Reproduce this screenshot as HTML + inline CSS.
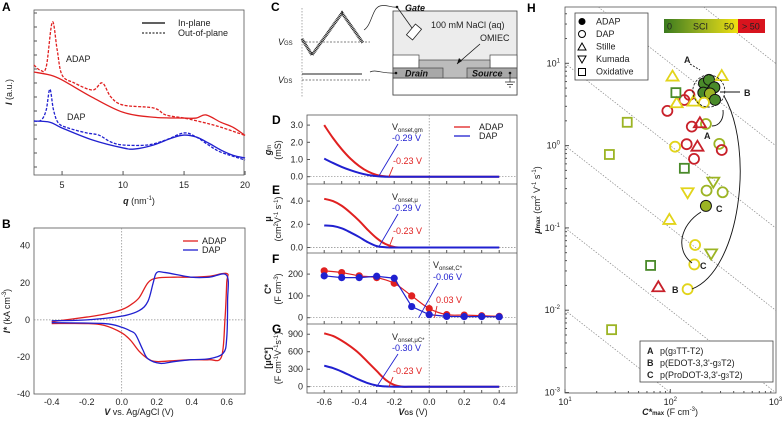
<!DOCTYPE html>
<html><head><meta charset="utf-8"><style>
html,body{margin:0;padding:0;background:#fff;width:783px;height:422px;overflow:hidden;}
svg{display:block;font-family:"Liberation Sans",sans-serif;}
.t{font-size:9px;fill:#222}
.pl{font-size:12px;font-weight:bold;fill:#000}
.ax{fill:none;stroke:#555;stroke-width:0.8}
.dot{stroke:#888;stroke-width:0.7;stroke-dasharray:1.5,1.5;fill:none}
</style></head><body>
<svg id="fig" width="783" height="422" viewBox="0 0 783 422" xmlns="http://www.w3.org/2000/svg" overflow="hidden">
<!-- Panel A -->
<g>
<text class="pl" x="2" y="11">A</text>
<rect class="ax" x="34" y="10" width="210" height="165"/>
<g id="gA"></g>
<line x1="142" y1="23" x2="165" y2="23" stroke="#000" stroke-width="1.3"/>
<text class="t" x="178" y="26">In-plane</text>
<line x1="142" y1="33" x2="165" y2="33" stroke="#000" stroke-width="1.1" stroke-dasharray="2,1.5"/>
<text class="t" x="178" y="36">Out-of-plane</text>
<text class="t" x="66" y="62">ADAP</text>
<text class="t" x="67" y="120">DAP</text>
<text class="t" x="139" y="204" text-anchor="middle"><tspan font-weight="bold" font-style="italic">q</tspan> (nm<tspan font-size="6" dy="-4">-1</tspan><tspan dy="4">)</tspan></text>
<text class="t" transform="translate(12,92) rotate(-90)" text-anchor="middle"><tspan font-style="italic" font-weight="bold">I</tspan> (a.u.)</text>
</g>
<!-- Panel B -->
<g>
<text class="pl" x="2" y="228">B</text>
<rect class="ax" x="34" y="228" width="211" height="166"/>
<g id="gB"></g>
<line x1="183" y1="241" x2="198" y2="241" stroke="#e02020" stroke-width="1.3"/>
<text class="t" x="202" y="244">ADAP</text>
<line x1="183" y1="250" x2="198" y2="250" stroke="#2020d0" stroke-width="1.3"/>
<text class="t" x="202" y="253">DAP</text>
<text class="t" x="139" y="415" text-anchor="middle"><tspan font-weight="bold" font-style="italic">V</tspan> vs. Ag/AgCl (V)</text>
<text class="t" transform="translate(10,311) rotate(-90)" text-anchor="middle"><tspan font-style="italic" font-weight="bold">I*</tspan> (kA cm<tspan font-size="6" dy="-4">-3</tspan><tspan dy="4">)</tspan></text>
</g>
<!-- Panel C schematic -->
<g>
<text class="pl" x="271" y="11">C</text>
<line x1="302" y1="8" x2="302" y2="97" class="dot" stroke="#444"/>
<polyline points="302,39 312,55 342,13 363,43" fill="none" stroke="#222" stroke-width="3" stroke-dasharray="1,0.6"/>
<line x1="302" y1="42" x2="370" y2="42" stroke="#555" stroke-width="0.8" stroke-dasharray="2,1.5"/>
<line x1="302" y1="74" x2="362" y2="74" stroke="#222" stroke-width="0.9"/>
<line x1="302" y1="80" x2="370" y2="80" stroke="#555" stroke-width="0.8" stroke-dasharray="2,1.5"/>
<text class="t" x="278" y="45"><tspan font-style="italic">V</tspan><tspan font-size="6">GS</tspan></text>
<text class="t" x="278" y="83"><tspan font-style="italic">V</tspan><tspan font-size="6">DS</tspan></text>
<rect x="393" y="11" width="124" height="84" fill="#ececec" stroke="#444" stroke-width="0.8"/>
<rect x="393" y="78" width="124" height="17" fill="#fff" stroke="#444" stroke-width="0.8"/>
<rect x="393" y="55" width="26" height="13" fill="#fff" stroke="#444" stroke-width="0.7"/>
<rect x="490" y="55" width="27" height="13" fill="#fff" stroke="#444" stroke-width="0.7"/>
<rect x="419" y="60" width="71" height="18" fill="#bcbcbc" stroke="#444" stroke-width="0.7"/>
<rect x="393" y="68" width="50" height="10" fill="#a8a8a8" stroke="#444" stroke-width="0.7"/>
<rect x="467" y="68" width="50" height="10" fill="#a8a8a8" stroke="#444" stroke-width="0.7"/>
<text x="405" y="76.5" font-size="9" font-weight="bold" font-style="italic" fill="#111">Drain</text>
<text x="472" y="76.5" font-size="9" font-weight="bold" font-style="italic" fill="#111">Source</text>
<text class="t" x="431" y="28">100 mM NaCl (aq)</text>
<text class="t" x="480" y="41">OMIEC</text>
<line x1="480" y1="44" x2="457" y2="64" stroke="#111" stroke-width="0.8"/>
<polygon points="457,64 459,58 462,61" fill="#111"/>
<text x="405" y="11" font-size="9" font-weight="bold" font-style="italic" fill="#111">Gate</text>
<line x1="397" y1="7" x2="412" y2="28" stroke="#222" stroke-width="0.8"/>
<rect x="407" y="28" width="14" height="8" fill="#fff" stroke="#222" stroke-width="0.8" transform="rotate(-50 414 32)"/>
<circle cx="397" cy="7" r="1.3" fill="#111"/>
<path d="M364,30 C372,25 372,8 380,6 C388,4 390,8 397,7" fill="none" stroke="#222" stroke-width="0.7"/>
<path d="M370,72 C376,69 382,74 396,73" fill="none" stroke="#222" stroke-width="0.7"/>
<circle cx="396" cy="73" r="1.3" fill="#111"/>
<circle cx="510" cy="73" r="1.3" fill="#111"/>
<path d="M510,73 V82 M505,82 H515 M507,84.5 H513 M509,87 H511" stroke="#222" stroke-width="0.7" fill="none"/>
</g>
<!-- Panels D-G -->
<g>
<text class="pl" x="272" y="124">D</text>
<text class="pl" x="272" y="194">E</text>
<text class="pl" x="272" y="263">F</text>
<text class="pl" x="272" y="333">G</text>
<rect class="ax" x="307" y="115" width="210" height="278"/>
<line class="ax" x1="307" y1="184" x2="517" y2="184"/>
<line class="ax" x1="307" y1="253" x2="517" y2="253"/>
<line class="ax" x1="307" y1="324" x2="517" y2="324"/>
<g id="gDG"></g>
<text class="t" transform="translate(271,150) rotate(-90)" text-anchor="middle"><tspan font-style="italic" font-weight="bold">g</tspan><tspan font-size="6">m</tspan><tspan x="0" dy="10">(mS)</tspan></text>
<text class="t" transform="translate(271,219) rotate(-90)" text-anchor="middle"><tspan font-weight="bold">μ</tspan><tspan x="0" dy="10">(cm</tspan><tspan font-size="6" dy="-3">2</tspan><tspan dy="3">V</tspan><tspan font-size="6" dy="-3">-1</tspan><tspan dy="3"> s</tspan><tspan font-size="6" dy="-3">-1</tspan><tspan dy="3">)</tspan></text>
<text class="t" transform="translate(271,289) rotate(-90)" text-anchor="middle"><tspan font-weight="bold">C*</tspan><tspan x="0" dy="10">(F cm</tspan><tspan font-size="6" dy="-3">-3</tspan><tspan dy="3">)</tspan></text>
<text class="t" transform="translate(271,358) rotate(-90)" text-anchor="middle"><tspan font-weight="bold">[μC*]</tspan><tspan x="0" dy="10">(F cm</tspan><tspan font-size="6" dy="-3">-1</tspan><tspan dy="3">V</tspan><tspan font-size="6" dy="-3">-1</tspan><tspan dy="3">s</tspan><tspan font-size="6" dy="-3">-1</tspan><tspan dy="3">)</tspan></text>
<line x1="454" y1="127" x2="470" y2="127" stroke="#e02020" stroke-width="1.3"/>
<text class="t" x="479" y="130">ADAP</text>
<line x1="454" y1="136" x2="470" y2="136" stroke="#2020d0" stroke-width="1.3"/>
<text class="t" x="479" y="139">DAP</text>
<text class="t" x="413" y="415" text-anchor="middle"><tspan font-weight="bold" font-style="italic">V</tspan><tspan font-size="6" font-weight="bold">GS</tspan> (V)</text>
</g>
<!-- Panel H -->
<g>
<text class="pl" x="527" y="12">H</text>
<rect class="ax" x="565" y="7" width="211" height="386"/>
<g id="gH"></g>
<rect x="575" y="13" width="73" height="67" fill="#fff" stroke="#444" stroke-width="0.8"/>
<circle cx="582" cy="21.5" r="3.5" fill="#000"/>
<text class="t" x="596" y="24.5">ADAP</text>
<circle cx="582" cy="34" r="3.5" fill="none" stroke="#000"/>
<text class="t" x="596" y="37">DAP</text>
<polygon points="582,43 586,50 578,50" fill="none" stroke="#000"/>
<text class="t" x="596" y="49.5">Stille</text>
<polygon points="578,56 586,56 582,63" fill="none" stroke="#000"/>
<text class="t" x="596" y="62">Kumada</text>
<rect x="578.5" y="68.5" width="7" height="7" fill="none" stroke="#000"/>
<text class="t" x="596" y="74.5">Oxidative</text>
<defs><linearGradient id="sci" x1="0" x2="1"><stop offset="0" stop-color="#3a7a1e"/><stop offset="0.5" stop-color="#98b020"/><stop offset="1" stop-color="#f0e010"/></linearGradient></defs>
<rect x="664" y="19" width="74" height="14" fill="url(#sci)"/>
<rect x="738" y="19" width="27" height="14" fill="#d8141e"/>
<text class="t" x="667" y="29.5">0</text>
<text class="t" x="693" y="29.5">SCI</text>
<text class="t" x="724" y="29.5">50</text>
<text class="t" x="742" y="29.5">&gt; 50</text>
<rect x="640" y="341" width="133" height="41" fill="#fff" stroke="#444" stroke-width="0.8"/>
<text class="t" x="647" y="354" font-weight="bold">A</text>
<text class="t" x="660" y="354">p(g<tspan font-size="6">3</tspan>TT-T2)</text>
<text class="t" x="647" y="366" font-weight="bold">B</text>
<text class="t" x="660" y="366">p(EDOT-3,3'-g<tspan font-size="6">3</tspan>T2)</text>
<text class="t" x="647" y="378" font-weight="bold">C</text>
<text class="t" x="660" y="378">p(ProDOT-3,3'-g<tspan font-size="6">3</tspan>T2)</text>
<text class="t" x="670" y="415" text-anchor="middle"><tspan font-weight="bold" font-style="italic">C*</tspan><tspan font-size="6" font-weight="bold">max</tspan> (F cm<tspan font-size="6" dy="-4">-3</tspan><tspan dy="4">)</tspan></text>
<text class="t" transform="translate(540,200) rotate(-90)" text-anchor="middle"><tspan font-weight="bold" font-style="italic">μ</tspan><tspan font-size="6" font-weight="bold">max</tspan> (cm<tspan font-size="6" dy="-4">2</tspan><tspan dy="4"> V</tspan><tspan font-size="6" dy="-4">-1</tspan><tspan dy="4"> s</tspan><tspan font-size="6" dy="-4">-1</tspan><tspan dy="4">)</tspan></text>
</g>
</svg>
<script>
// ---------- Panel A data ----------
const qAdapIn=[2.7,4,5,7.5,10,12.5,15,16,16.8,18,19,20];
const iAdapIn=[62.4,60.6,57.6,47,38,35,34.5,34.5,36.4,32,29,24];
const qAdapOut=[2.7,3.2,3.7,4.2,4.6,5,6,7.5,8.3,9,10,12.5,13.5,15,16.5,18,20];
const iAdapOut=[66.7,63.6,65.5,92.7,75.8,60.6,55.8,51.5,55.8,47.3,42.4,40.6,36.4,34.5,32,29,24];
const qDapIn=[2.7,4,5,7.5,10,11,12.5,14,15,16,17,18,19,20];
const iDapIn=[32.7,32,28.5,21.2,16.4,15.8,18.2,22.4,24.2,23,19.4,15.2,12,10.3];
const qDapOut=[2.7,3.3,3.7,4.0,4.3,4.7,5.5,7,8,9,10,12,13.5,15,16,17,18,20];
const iDapOut=[32.7,33.3,39.4,52,39.4,31.5,28.5,25.5,24.2,20,18.2,18.2,21.2,25.5,23,18.2,13.9,9.1];
const qTicks=[5,10,15,20];
// ---------- Panel B data ----------
const vAdap=[-0.4,-0.2,-0.1,0,0.05,0.1,0.15,0.2,0.3,0.4,0.5,0.6,0.6,0.59,0.57,0.5,0.4,0.3,0.2,0.15,0.1,0.05,0,-0.1,-0.2,-0.4];
const iAdap=[-1,1.5,3,5.5,8,12,20,22.5,23,23,23.5,25,20,0,-20,-21.5,-21.5,-22,-22.5,-21,-17,-11,-7,-3,-2,-2];
const vDap=[-0.4,-0.2,0,0.1,0.15,0.18,0.2,0.25,0.4,0.5,0.6,0.605,0.6,0.58,0.5,0.4,0.3,0.22,0.15,0.12,0.08,0.05,0,-0.1,-0.4];
const iDap=[-0.5,0,2,5,10,20,25.5,25.5,23,23,24,10,-10,-18,-21,-21.5,-22.5,-23.5,-21,-16,-8,-6,-4,-2,-1.5];
const bXTicks=[-0.4,-0.2,0.0,0.2,0.4,0.6];
const bYTicks=[-40,-20,0,20,40];
// ---------- Panels D-G data ----------
const vgs=[-0.6,-0.55,-0.5,-0.45,-0.4,-0.35,-0.3,-0.25,-0.2,-0.15,-0.1,-0.05,0,0.05,0.1,0.15,0.2,0.25,0.3,0.35,0.4];
const gmAdap=[3.0,2.25,1.6,1.05,0.62,0.3,0.1,0.02,0,0,0,0,0,0,0,0,0,0,0,0,0];
const gmDap=[1.05,0.8,0.57,0.38,0.22,0.1,0.03,0,0,0,0,0,0,0,0,0,0,0,0,0,0];
const muAdap=[4.2,4.0,3.6,3.0,2.3,1.5,0.8,0.3,0.05,0,0,0,0,0,0,0,0,0,0,0,0];
const muDap=[1.9,1.85,1.65,1.3,0.9,0.45,0.12,0.02,0,0,0,0,0,0,0,0,0,0,0,0,0];
const uAdap=[915,870,790,690,570,420,270,120,30,0,0,0,0,0,0,0,0,0,0,0,0];
const uDap=[360,320,260,190,120,60,20,5,0,0,0,0,0,0,0,0,0,0,0,0,0];
const vC=[-0.6,-0.5,-0.4,-0.3,-0.2,-0.1,0,0.1,0.2,0.3,0.4];
const cAdap=[215,207,192,184,158,100,42,14,12,9,6];
const cDap=[192,184,184,190,181,51,14,6,5,5,4];
const vTicks=[-0.6,-0.4,-0.2,0.0,0.2,0.4];
const dTicks=[0,1,2,3];
const eTicks=[0,2,4];
const fTicks=[0,100,200];
const gTicks=[0,300,600,900];
// ---------- Panel H data ----------
const hC=[209,233,262,206,238,266,218, 209,93.8,136,152,160,218,143,111,168,292,308,221,314,172,169,146, 105,308,115,166,181,191,98,77, 256,146,244, 113,39,26.4,136,65,27.7];
const hMu=[5.7,6.3,5.1,4.4,4.3,3.6,0.185, 3.33,2.64,3.58,4.12,1.70,1.83,1.04,0.97,0.69,1.05,0.885,0.284,0.271,0.062,0.036,0.018, 6.9,7.0,3.27,3.42,0.97,1.87,0.125,0.019, 0.365,0.271,0.049, 4.4,1.92,0.78,0.53,0.035,0.0058];
const hType=['adap','adap','adap','adap','adap','adap','adap','dap','dap','dap','dap','dap','dap','dap','dap','dap','dap','dap','dap','dap','dap','dap','dap','stille','stille','stille','stille','stille','stille','stille','stille','kumada','kumada','kumada','ox','ox','ox','ox','ox','ox'];
const hSci=['g','g','g','g','o','g','o','y','r','r','r','r','o','r','y','r','o','r','o','o','y','y','y','y','y','y','y','r','r','y','r','o','y','o','g','o','o','g','g','o'];
const isoLevels=[-1,0,1,2,3,4];

const NS='http://www.w3.org/2000/svg';
function mk(tag,parent){const e=document.createElementNS(NS,tag);parent.appendChild(e);return e;}
function pathOf(xs,ys,fx,fy){return xs.map((x,i)=>(i?'L':'M')+fx(x).toFixed(2)+','+fy(ys[i]).toFixed(2)).join('');}
function smoothPath(xs,ys,fx,fy){
  const p=xs.map((x,i)=>[fx(x),fy(ys[i])]);let d='M'+p[0][0]+','+p[0][1];
  for(let i=0;i<p.length-1;i++){const p0=p[i-1]||p[i],p1=p[i],p2=p[i+1],p3=p[i+2]||p2;
    d+='C'+(p1[0]+(p2[0]-p0[0])/6)+','+(p1[1]+(p2[1]-p0[1])/6)+' '+(p2[0]-(p3[0]-p1[0])/6)+','+(p2[1]-(p3[1]-p1[1])/6)+' '+p2[0]+','+p2[1];}
  return d;}
const RED='#e02020',BLUE='#2020d0';

// Panel A
const gA=document.getElementById('gA');
const xA=q=>34+(q-2.7)*12.2, yA=v=>175-v*1.65;
[[qAdapIn,iAdapIn,RED,null,'adap-in-plane'],[qAdapOut,iAdapOut,RED,'3,1.5','adap-out-of-plane'],[qDapIn,iDapIn,BLUE,null,'dap-in-plane'],[qDapOut,iDapOut,BLUE,'3,1.5','dap-out-of-plane']].forEach(s=>{
  const p=mk('path',gA);p.setAttribute('d',smoothPath(s[0],s[1],xA,yA));p.setAttribute('fill','none');p.setAttribute('stroke',s[2]);p.setAttribute('stroke-width','1.3');
  if(s[3])p.setAttribute('stroke-dasharray',s[3]);
  
  });
qTicks.forEach(q=>{const t=mk('text',gA);t.setAttribute('class','t');t.setAttribute('x',xA(q));t.setAttribute('y',188);t.setAttribute('text-anchor','middle');t.textContent=q;
  
  
  const l=mk('line',gA);l.setAttribute('x1',xA(q));l.setAttribute('x2',xA(q));l.setAttribute('y1',175);l.setAttribute('y2',171);l.setAttribute('stroke','#555');
  
  });
for(let k=0;k<12;k++){const l=mk('line',gA);const y=13+k*14;l.setAttribute('x1',34);l.setAttribute('x2',37);l.setAttribute('y1',y);l.setAttribute('y2',y);l.setAttribute('stroke','#555');
  
  }

// Panel B
const gB=document.getElementById('gB');
const xB=v=>34.2+(v+0.5)*175, yB=i=>394-(i+40)*1.854;
let l0=mk('line',gB);l0.setAttribute('x1',xB(0));l0.setAttribute('x2',xB(0));l0.setAttribute('y1',228);l0.setAttribute('y2',394);l0.setAttribute('class','dot');


l0=mk('line',gB);l0.setAttribute('x1',34);l0.setAttribute('x2',245);l0.setAttribute('y1',yB(0));l0.setAttribute('y2',yB(0));l0.setAttribute('class','dot');


[[vAdap,iAdap,RED,'adap-cv'],[vDap,iDap,BLUE,'dap-cv']].forEach(s=>{const p=mk('path',gB);p.setAttribute('d',smoothPath(s[0],s[1],xB,yB));p.setAttribute('fill','none');p.setAttribute('stroke',s[2]);p.setAttribute('stroke-width','1.3');
  
  });
bXTicks.forEach(v=>{const t=mk('text',gB);t.setAttribute('class','t');t.setAttribute('x',xB(v));t.setAttribute('y',405);t.setAttribute('text-anchor','middle');t.textContent=v.toFixed(1);
  
  });
bYTicks.forEach(v=>{const t=mk('text',gB);t.setAttribute('class','t');t.setAttribute('x',30);t.setAttribute('y',yB(v)+3);t.setAttribute('text-anchor','end');t.textContent=v;
  
  });

// Panels D-G
const g=document.getElementById('gDG');
const xV=v=>306.7+(v+0.7)*175;
const yD=v=>176.7-v*17.2, yE=v=>247.5-v*11.6, yF=v=>317.7-v*0.218, yG=v=>386.7-v*0.0583;
l0=mk('line',g);l0.setAttribute('x1',xV(0));l0.setAttribute('x2',xV(0));l0.setAttribute('y1',115);l0.setAttribute('y2',393);l0.setAttribute('class','dot');


[[yD,dTicks,1,'d'],[yE,eTicks,1,'e'],[yF,fTicks,0,'f'],[yG,gTicks,0,'g']].forEach(P=>{
  const z=mk('line',g);z.setAttribute('x1',307);z.setAttribute('x2',517);z.setAttribute('y1',P[0](0));z.setAttribute('y2',P[0](0));z.setAttribute('class','dot');
  
  
  P[1].forEach(v=>{const t=mk('text',g);t.setAttribute('class','t');t.setAttribute('x',303);t.setAttribute('y',P[0](v)+3);t.setAttribute('text-anchor','end');t.textContent=P[2]?v.toFixed(1):v;
    
    
    const k=mk('line',g);k.setAttribute('x1',307);k.setAttribute('x2',310);k.setAttribute('y1',P[0](v));k.setAttribute('y2',P[0](v));k.setAttribute('stroke','#555');
    
    });
  const bot=P[3]==='d'?184:P[3]==='e'?253:P[3]==='f'?324:393;
  for(let v=-0.6;v<0.45;v+=0.1){const k=mk('line',g);k.setAttribute('x1',xV(v));k.setAttribute('x2',xV(v));k.setAttribute('y1',bot);k.setAttribute('y2',bot-3);k.setAttribute('stroke','#555');
    
    }
});
vTicks.forEach(v=>{const t=mk('text',g);t.setAttribute('class','t');t.setAttribute('x',xV(v));t.setAttribute('y',405);t.setAttribute('text-anchor','middle');t.textContent=v.toFixed(1);
  
  });
[[gmAdap,yD,RED,'gm-adap'],[gmDap,yD,BLUE,'gm-dap'],[muAdap,yE,RED,'mu-adap'],[muDap,yE,BLUE,'mu-dap'],[uAdap,yG,RED,'muc-adap'],[uDap,yG,BLUE,'muc-dap']].forEach(s=>{
  const p=mk('path',g);p.setAttribute('d',smoothPath(vgs,s[0],xV,s[1]));p.setAttribute('fill','none');p.setAttribute('stroke',s[2]);p.setAttribute('stroke-width','2');
  
  });
[[cAdap,RED,'c-adap'],[cDap,BLUE,'c-dap']].forEach(s=>{
  const p=mk('path',g);p.setAttribute('d',(s[2]==='c-adap'?smoothPath:pathOf)(vC,s[0],xV,yF));p.setAttribute('fill','none');p.setAttribute('stroke',s[1]);p.setAttribute('stroke-width','1.2');
  
  
  vC.forEach((v,i)=>{const c=mk('circle',g);c.setAttribute('cx',xV(v));c.setAttribute('cy',yF(s[0][i]));c.setAttribute('r',3.6);c.setAttribute('fill',s[1]);
    
    });});
function ann(x,y,txt,col,sub,name){const t=mk('text',g);t.setAttribute('class','t');t.setAttribute('x',x);t.setAttribute('y',y);t.style.fill=col;
  if(sub){t.innerHTML='V<tspan font-size="6" dy="2">'+sub+'</tspan>';}else t.textContent=txt;
  
  }
function ln(x1,y1,x2,y2,col,name){const l=mk('line',g);l.setAttribute('x1',x1);l.setAttribute('y1',y1);l.setAttribute('x2',x2);l.setAttribute('y2',y2);l.setAttribute('stroke',col);l.setAttribute('stroke-width','0.9');
  
  }
ann(392,130,'', '#222','onset,gm','onset-label-d');ann(392,141,'-0.29 V',BLUE,null,'onset-dap-d');ann(393,164,'-0.23 V',RED,null,'onset-adap-d');
ln(xV(-0.29),yD(0),398,144,BLUE,'onset-pointer-dap-d');ln(xV(-0.23),yD(0),393,167,RED,'onset-pointer-adap-d');
ann(392,200,'','#222','onset,μ','onset-label-e');ann(392,211,'-0.29 V',BLUE,null,'onset-dap-e');ann(393,234,'-0.23 V',RED,null,'onset-adap-e');
ln(xV(-0.29),yE(0),398,214,BLUE,'onset-pointer-dap-e');ln(xV(-0.23),yE(0),393,237,RED,'onset-pointer-adap-e');
ann(433,268,'','#222','onset,C*','onset-label-f');ann(433,280,'-0.06 V',BLUE,null,'onset-dap-f');ann(436,303,'0.03 V',RED,null,'onset-adap-f');
ln(xV(-0.06),yF(0),438,283,BLUE,'onset-pointer-dap-f');ln(xV(0.03),yF(0),437,306,RED,'onset-pointer-adap-f');
ann(392,340,'','#222','onset,μC*','onset-label-g');ann(392,351,'-0.30 V',BLUE,null,'onset-dap-g');ann(393,374,'-0.23 V',RED,null,'onset-adap-g');
ln(xV(-0.30),yG(0),398,354,BLUE,'onset-pointer-dap-g');ln(xV(-0.23),yG(0),393,377,RED,'onset-pointer-adap-g');

// Panel H
const gH=document.getElementById('gH');
const L=Math.log10;
const xH=c=>565+(L(c)-1)*105.3, yH=m=>63.3-(L(m)-1)*82.3;
const muTopLog=1+(63.3-7)/82.3;
isoLevels.forEach(n=>{
  const a=Math.max(1,n-muTopLog), b=Math.min(3,n+3);
  if(b<=a)return;
  const l=mk('line',gH);
  l.setAttribute('x1',xH(Math.pow(10,a)));l.setAttribute('y1',yH(Math.pow(10,n-a)));
  l.setAttribute('x2',xH(Math.pow(10,b)));l.setAttribute('y2',yH(Math.pow(10,n-b)));
  l.setAttribute('class','dot');
  
  });
for(let d=1;d<3;d++)for(let m=1;m<10;m++){const v=Math.pow(10,d)*m;const k=mk('line',gH);k.setAttribute('x1',xH(v));k.setAttribute('x2',xH(v));k.setAttribute('y1',393);k.setAttribute('y2',393-(m===1?4:2));k.setAttribute('stroke','#555');
  
  }
for(let d=-3;d<2;d++)for(let m=1;m<10;m++){const v=Math.pow(10,d)*m;if(yH(v)<7)continue;const k=mk('line',gH);k.setAttribute('x1',565);k.setAttribute('x2',565+(m===1?4:2));k.setAttribute('y1',yH(v));k.setAttribute('y2',yH(v));k.setAttribute('stroke','#555');
  
  }
[1,2,3].forEach(e=>{const t=mk('text',gH);t.setAttribute('class','t');t.setAttribute('x',xH(Math.pow(10,e)));t.setAttribute('y',405);t.setAttribute('text-anchor','middle');
  t.innerHTML='10<tspan font-size="6" dy="-4">'+e+'</tspan>';
  
  });
[1,0,-1,-2,-3].forEach(e=>{const t=mk('text',gH);t.setAttribute('class','t');t.setAttribute('x',560);t.setAttribute('y',yH(Math.pow(10,e))+3);t.setAttribute('text-anchor','end');
  t.innerHTML='10<tspan font-size="6" dy="-4">'+e+'</tspan>';
  
  });
const COL={g:'#4a8a2a',o:'#9cb424',y:'#e2d41a',r:'#c8202a'};
hC.forEach((c,i)=>{const x=xH(c),y=yH(hMu[i]),col=COL[hSci[i]],ty=hType[i];let e;
  if(ty==='adap'||ty==='dap'){e=mk('circle',gH);e.setAttribute('cx',x);e.setAttribute('cy',y);e.setAttribute('r',ty==='adap'?5.5:5);}
  else if(ty==='stille'){e=mk('polygon',gH);e.setAttribute('points',`${x},${y-6} ${x+6},${y+4} ${x-6},${y+4}`);}
  else if(ty==='kumada'){e=mk('polygon',gH);e.setAttribute('points',`${x-6},${y-4} ${x+6},${y-4} ${x},${y+6}`);}
  else {e=mk('rect',gH);e.setAttribute('x',x-4.5);e.setAttribute('y',y-4.5);e.setAttribute('width',9);e.setAttribute('height',9);}
  if(ty==='adap'){e.setAttribute('fill',col);e.setAttribute('stroke','#111');e.setAttribute('stroke-width','1');}
  else{e.setAttribute('fill','none');e.setAttribute('stroke',col);e.setAttribute('stroke-width','1.8');}
  
  });
function hp(d,name,dash){const p=mk('path',gH);p.setAttribute('d',d);p.setAttribute('fill','none');p.setAttribute('stroke','#111');p.setAttribute('stroke-width','0.9');if(dash)p.setAttribute('stroke-dasharray',dash);
  
  }
function ht(x,y,s,name){const t=mk('text',gH);t.setAttribute('class','t');t.setAttribute('x',x);t.setAttribute('y',y);t.setAttribute('font-weight','bold');t.textContent=s;
  
  }
const cc=mk('circle',gH);cc.setAttribute('cx',xH(232));cc.setAttribute('cy',yH(4.6));cc.setAttribute('r',16);cc.setAttribute('fill','none');cc.setAttribute('stroke','#111');cc.setAttribute('stroke-width','0.8');cc.setAttribute('stroke-dasharray','2.5,1.5');


ht(684,63,'A','label-a-top');hp('M690,64 L700,70','pointer-a-top','2,1.5');
ht(744,96,'B','label-b-right');hp('M740,92 L720,92','pointer-b-right');
ht(704,139,'A','label-a-mid');hp('M712,126 C720,126 724,118 723,110','arrow-a');
ht(672,293,'B','label-b-bottom');hp('M692,289 C740,270 755,150 724,96','arrow-b');
ht(700,269,'C','label-c-bottom');hp('M692,263 C675,250 680,225 701,212','arrow-c');
ht(716,212,'C','label-c-filled');
</script>
</body></html>
